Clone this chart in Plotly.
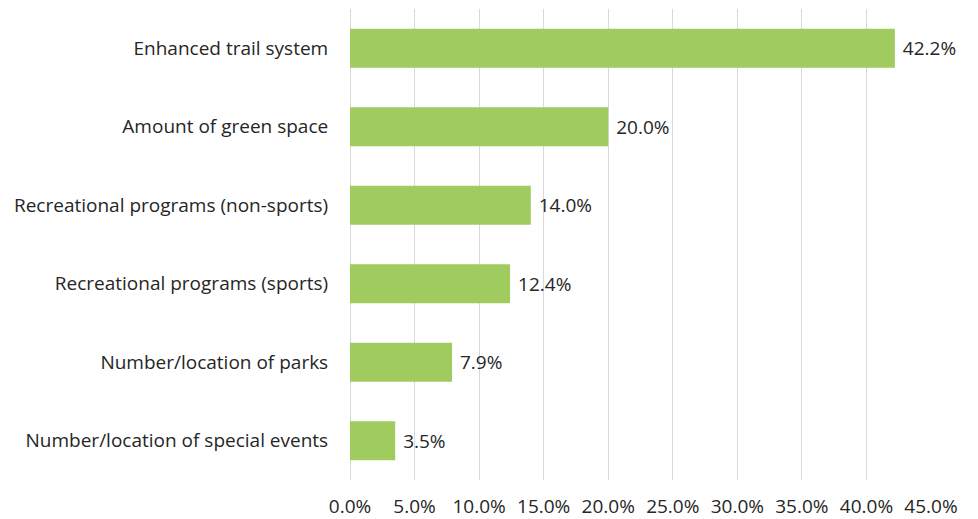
import plotly.graph_objects as go

categories = [
    "Enhanced trail system",
    "Amount of green space",
    "Recreational programs (non-sports)",
    "Recreational programs (sports)",
    "Number/location of parks",
    "Number/location of special events",
]
values = [42.2, 20.0, 14.0, 12.4, 7.9, 3.5]
tick_vals = [0, 5, 10, 15, 20, 25, 30, 35, 40, 45]
tick_text = [f"{v:.1f}%" for v in tick_vals]

fig = go.Figure(go.Bar(
    y=categories,
    x=values,
    orientation="h",
    marker=dict(color="#9FCB5F", line=dict(width=0)),
    text=["\u00a0" + f"{v:.1f}%" for v in values],
    textposition="outside",
    textfont=dict(size=19, color="#262626"),
    cliponaxis=False,
))

fig.update_layout(
    width=978, height=519,
    margin=dict(l=350, r=47, t=9, b=39),
    paper_bgcolor="white", plot_bgcolor="white",
    font=dict(family="Open Sans", size=19, color="#262626"),
    bargap=0.505,
    showlegend=False,
)
fig.update_xaxes(
    range=[0, 45], tickvals=tick_vals, ticktext=tick_text,
    showgrid=True, gridcolor="#D9D9D9", gridwidth=1,
    zeroline=True, zerolinecolor="#D9D9D9", zerolinewidth=1,
    showline=False, ticks="outside", ticklen=9, tickcolor="rgba(0,0,0,0)",
    automargin=False, fixedrange=True,
)
fig.update_yaxes(
    autorange="reversed", showgrid=False, showline=False,
    ticks="outside", ticklen=17, tickcolor="rgba(0,0,0,0)",
    automargin=False,
)

fig.write_html("out.html")
